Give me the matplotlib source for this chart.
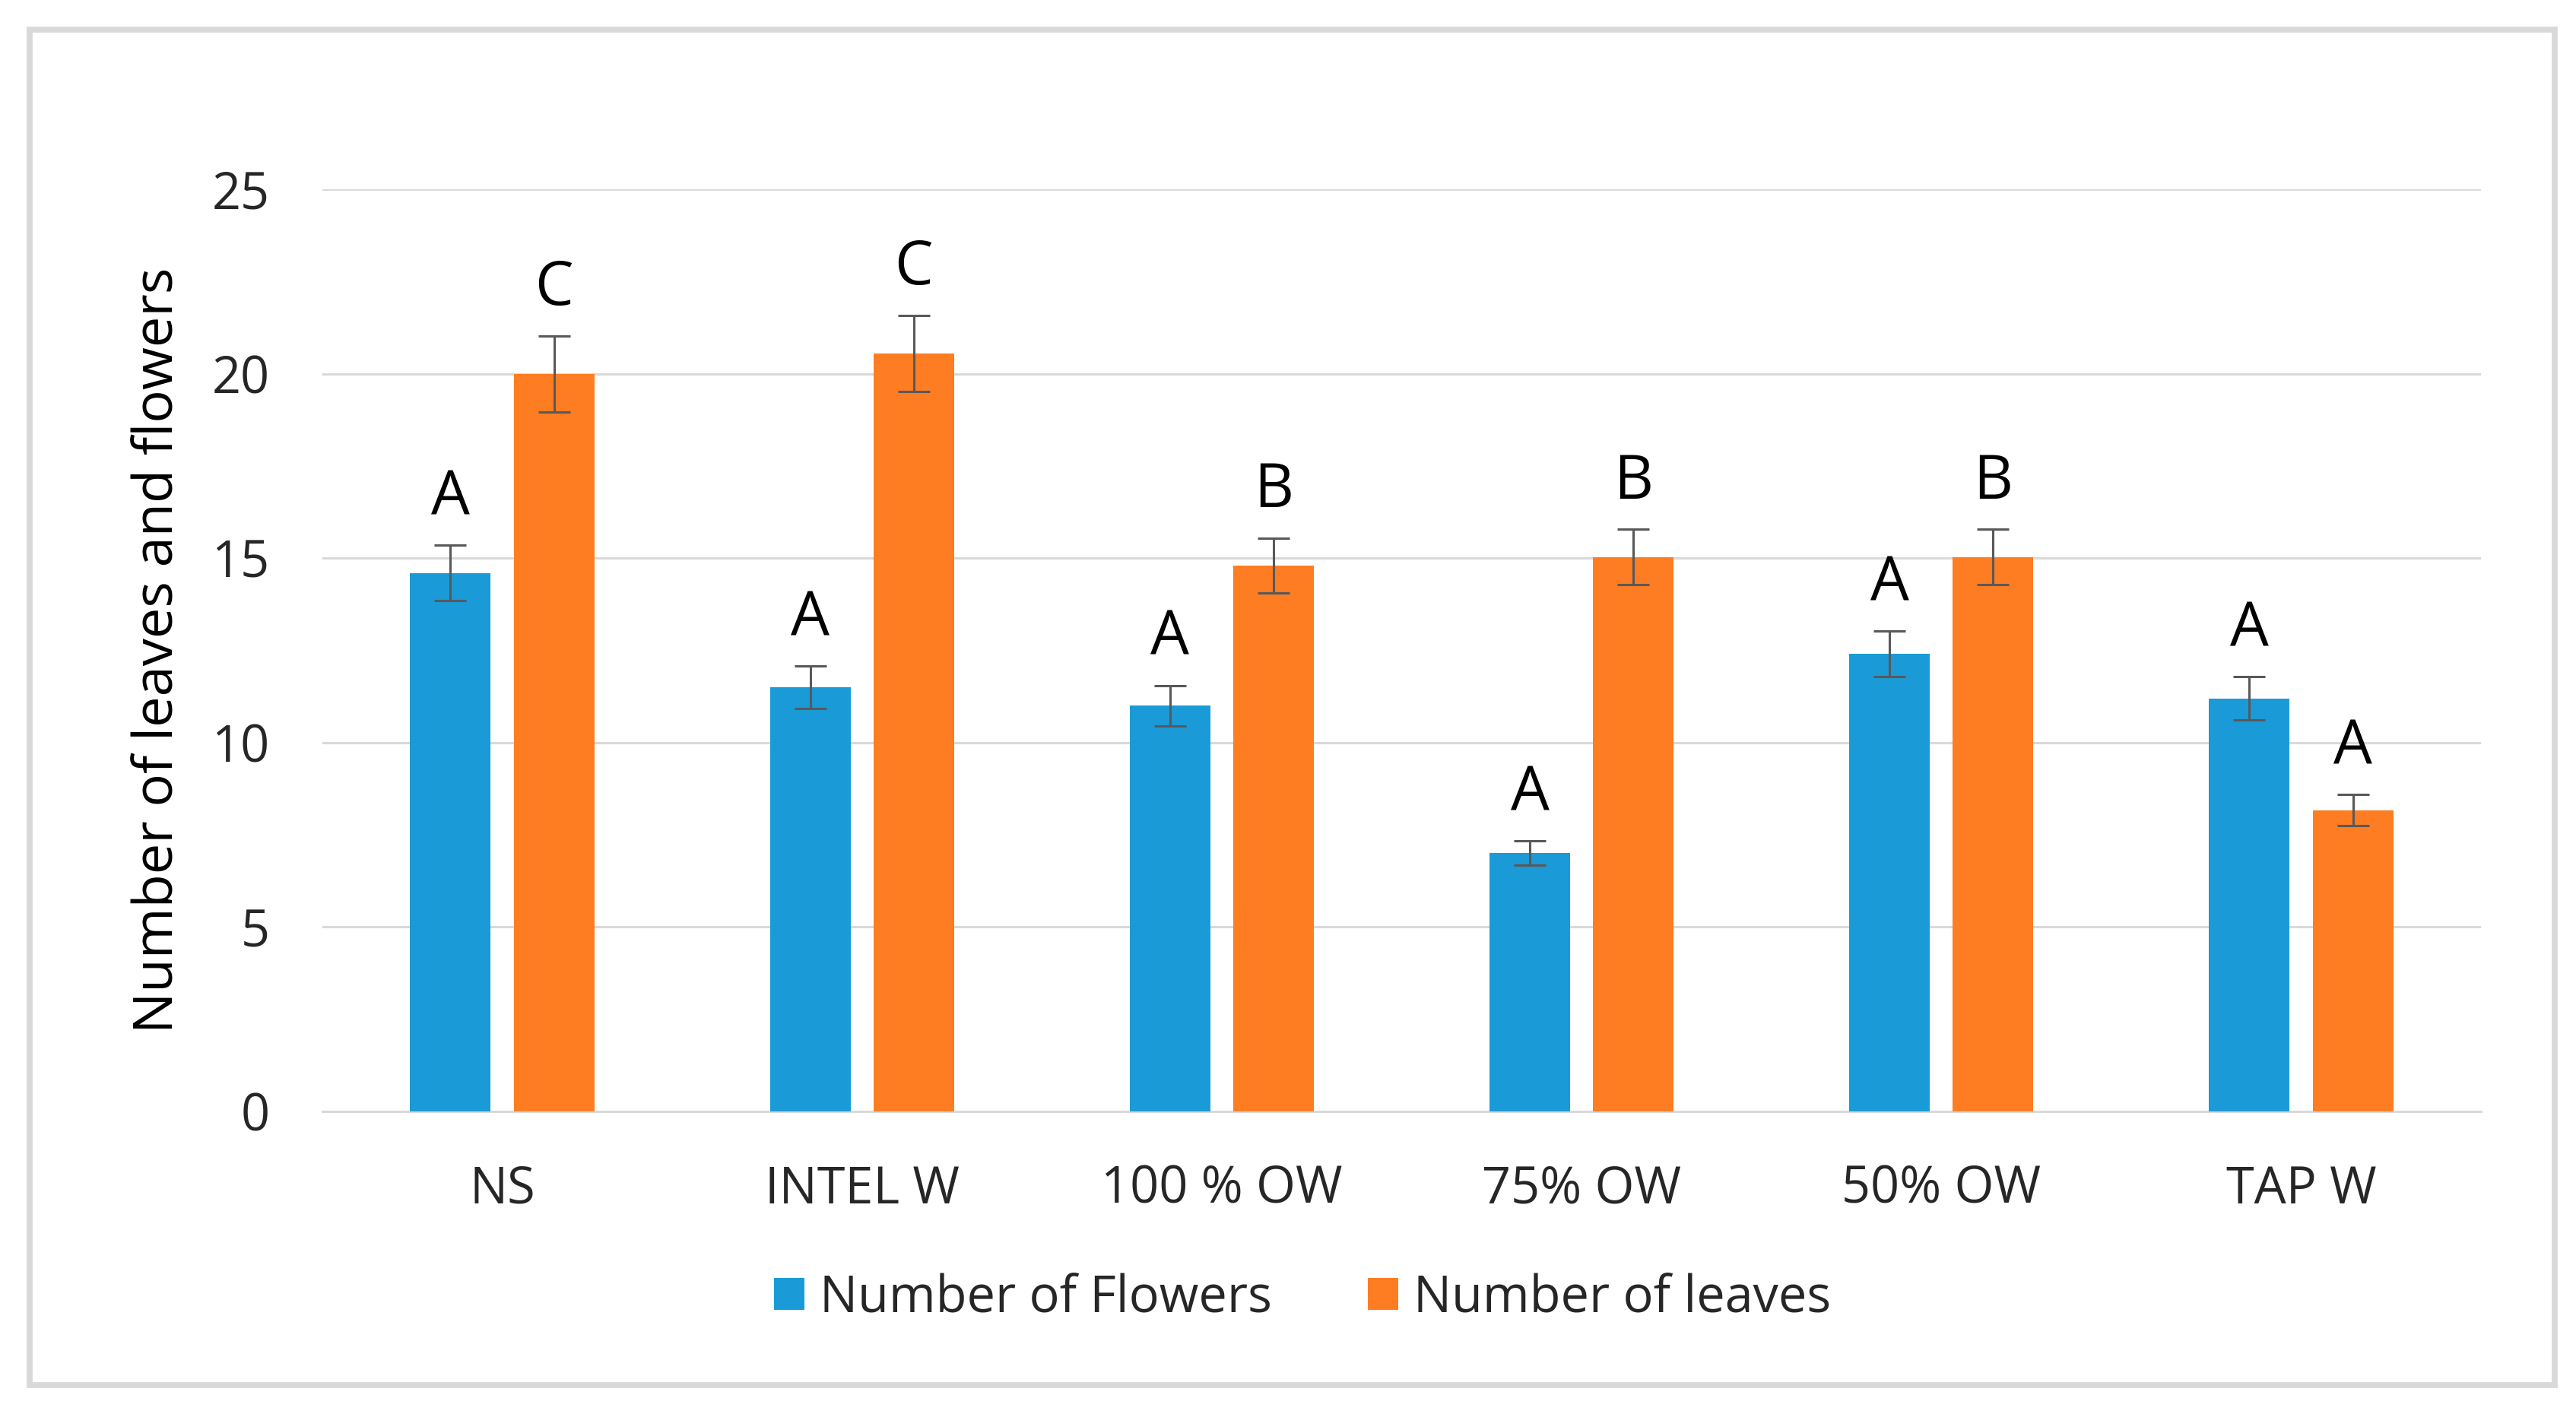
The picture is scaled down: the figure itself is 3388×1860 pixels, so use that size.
import matplotlib
matplotlib.use("Agg")
import matplotlib.pyplot as plt
from matplotlib.patches import Rectangle, Patch
import numpy as np

plt.rcParams['font.family'] = ['Open Sans', 'DejaVu Sans']

categories = ["NS", "INTEL W", "100 % OW", "75% OW", "50% OW", "TAP W"]
flowers = [14.6, 11.5, 11.0, 7.0, 12.4, 11.2]
flowers_err = [0.75, 0.58, 0.55, 0.33, 0.62, 0.58]
leaves = [20.0, 20.55, 14.8, 15.03, 15.03, 8.17]
leaves_err = [1.03, 1.03, 0.75, 0.75, 0.75, 0.42]
flowers_letters = ["A", "A", "A", "A", "A", "A"]
leaves_letters = ["C", "C", "B", "B", "B", "A"]
series_names = ["Number of Flowers", "Number of leaves"]
yticks = [0, 5, 10, 15, 20, 25]

W, H = 3388, 1860
DPI = 200
fig = plt.figure(figsize=(W / DPI, H / DPI), dpi=DPI)

# outer chart border
fig.patches.append(Rectangle((39 / W, 1 - 1822 / H), (3360 - 39) / W, (1822 - 39) / H,
                             transform=fig.transFigure, fill=False,
                             edgecolor='#d9d9d9', linewidth=2.8, zorder=0))

ax = fig.add_axes([424 / W, 1 - 1462 / H, (3263 - 424) / W, (1462 - 249) / H])

blue = '#1a9bd7'
orange = '#fe7d22'
x = np.arange(len(categories))
off = 0.144
bw = 0.224

err_kw = dict(ecolor='#595959', elinewidth=1.1, capsize=7.5, capthick=1.1)
ax.bar(x - off, flowers, bw, color=blue, yerr=flowers_err, error_kw=err_kw, zorder=3)
ax.bar(x + off, leaves, bw, color=orange, yerr=leaves_err, error_kw=err_kw, zorder=3)

for i in range(len(categories)):
    ax.text(x[i] - off, flowers[i] + flowers_err[i] + 0.45, flowers_letters[i],
            ha='center', va='bottom', fontsize=29, color='black')
    ax.text(x[i] + off, leaves[i] + leaves_err[i] + 0.45, leaves_letters[i],
            ha='center', va='bottom', fontsize=29, color='black')

ax.set_xlim(-0.5, len(categories) - 0.5)
ax.set_ylim(0, 25)
ax.set_yticks(yticks)
ax.set_xticks(x)
ax.set_xticklabels(categories)
ax.tick_params(axis='both', length=0, labelsize=24, colors='#262626')
ax.tick_params(axis='x', pad=25)
ax.tick_params(axis='y', pad=25)
ax.grid(axis='y', color='#d9d9d9', linewidth=1.1, zorder=0)
ax.set_axisbelow(True)
for s in ['top', 'right', 'left']:
    ax.spines[s].set_visible(False)
ax.spines['bottom'].set_color('#d9d9d9')
ax.spines['bottom'].set_linewidth(1.1)

ax.set_ylabel("Number of leaves and flowers", fontsize=26, color='black', labelpad=12)

handles = [Patch(facecolor=blue, edgecolor='none'), Patch(facecolor=orange, edgecolor='none')]
fig.legend(handles, series_names, loc='center', bbox_to_anchor=(0.5056, 1 - 1708 / H),
           ncol=2, frameon=False, fontsize=24, handlelength=0.6, handleheight=0.6,
           handletextpad=0.3, columnspacing=1.9, labelcolor='#262626')

fig.savefig("out.png", dpi=DPI, facecolor='white')
